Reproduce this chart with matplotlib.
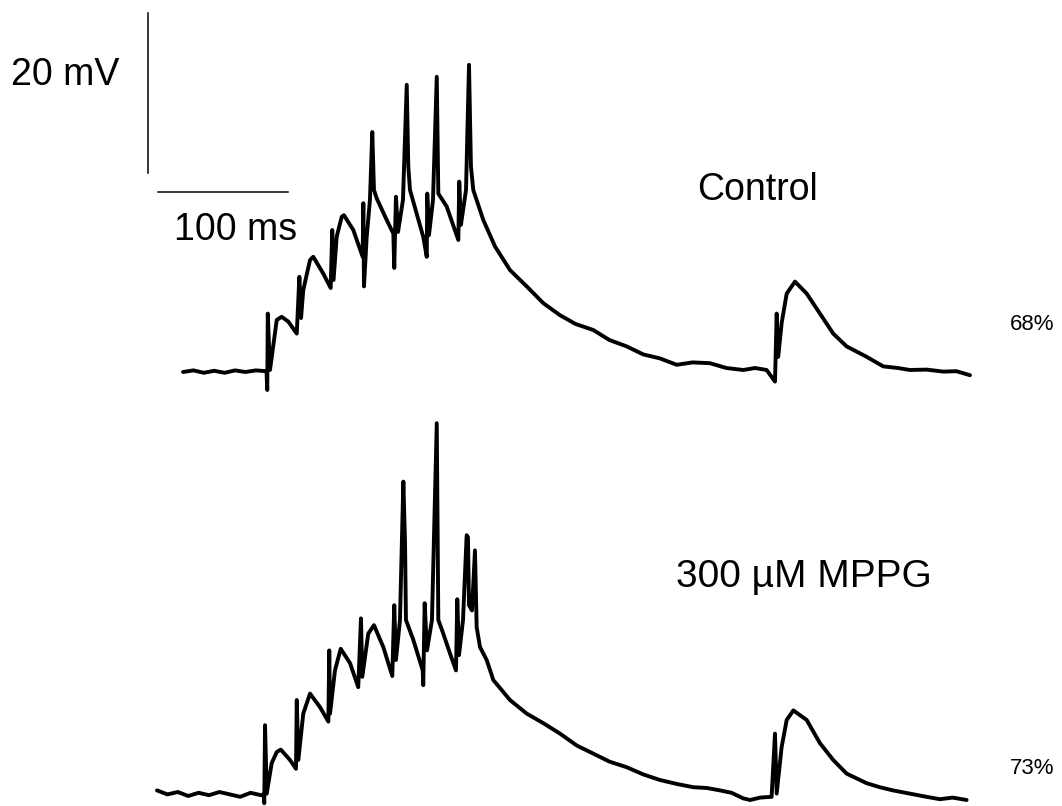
import matplotlib.pyplot as plt

plt.rcParams['font.family'] = ['Liberation Sans', 'DejaVu Sans']

# Control trace: time (ms) and membrane potential (mV, relative to rest)
control_t = [0, 8, 16, 24, 32, 40, 48, 56, 64.2,
             64.8, 65.2, 66.9, 72.1, 75.9, 81.0, 87.5,
             89.5, 90.8, 92.5, 97.7, 100.2, 107.9, 113.6,
             114.8, 115.8, 118.2, 122.1, 123.8, 131.0, 138.2,
             138.7, 139.2, 141.3, 143.8, 145.6, 146.9, 149.0, 156.7, 161.8,
             162.5, 163.8, 165.4, 169.2, 172.1, 173.3, 174.6, 184.8, 187.5,
             187.9, 189.2, 192.3, 195.2, 196.4, 202.8, 211.8,
             212.5, 213.8, 217.7, 220.0, 221.5, 223.3, 231.0, 240.0,
             251.5, 264.4, 277.2, 290.0, 302.0, 315.6, 328.0, 341.3, 354.0,
             366.9, 379.8, 392.0, 405.4, 418.0, 431.0, 440.0, 449.0,
             455.4, 456.7, 457.9, 460.5, 464.4, 470.8, 479.8, 490.0,
             500.2, 510.5, 525.9, 538.7, 550.0, 559.2, 572.0, 584.8, 595.0, 605.4]
control_v = [0, 0.2, -0.1, 0.15, -0.1, 0.2, 0.0, 0.2, 0.1,
             -2.25, 7.3, 0.25, 6.5, 6.9, 6.3, 4.8,
             11.9, 6.75, 10.25, 14.0, 14.4, 12.3, 10.5,
             17.75, 11.5, 16.9, 19.4, 19.6, 17.75, 14.4,
             21.1, 10.7, 16.9, 21.5, 30.0, 22.75, 21.7, 19.0, 17.3,
             13.0, 21.9, 17.5, 21.5, 35.9, 25.7, 22.75, 16.9, 14.4,
             22.3, 17.1, 21.5, 36.9, 22.3, 20.7, 16.5,
             23.8, 18.4, 22.75, 38.4, 25.7, 22.75, 19.0, 15.7,
             12.75, 10.7, 8.6, 7.1, 6.0, 5.25, 4.0, 3.2, 2.2,
             1.7, 0.9, 1.2, 1.1, 0.5, 0.25, 0.5, 0.25,
             -1.2, 7.3, 1.9, 6.1, 9.8, 11.3, 9.8, 7.3,
             4.8, 3.2, 1.9, 0.7, 0.5, 0.25, 0.3, 0.05, 0.1, -0.4]

# 300 uM MPPG trace
mppg_t = [-20, -12, -4, 4, 12, 20, 28, 36, 44, 52, 60, 62.0,
          62.5, 63.1, 64.4, 68.2, 72.1, 75.2, 82.3, 86.9,
          87.5, 88.7, 92.5, 97.7, 105.4, 111.8,
          112.5, 113.1, 116.9, 121.3, 128.5, 134.8,
          136.9, 137.9, 142.5, 146.9, 154.1, 161.0,
          162.5, 163.8, 166.9, 169.5, 170.8, 171.5, 177.2, 184.4,
          184.8, 185.9, 187.7, 191.5, 195.2, 196.4, 200.2, 206.7, 210.0,
          211.0, 212.3, 215.4, 218.2, 219.2, 220.0, 222.3, 224.6, 225.9,
          228.5, 233.6, 238.7, 251.5, 264.4, 277.2, 290.0, 303.0, 315.6,
          328.0, 341.3, 354.0, 366.9, 380.0, 392.5, 403.0, 413.1, 422.0,
          431.0, 436.2, 444.0, 452.8,
          455.4, 456.7, 460.5, 464.4, 469.5, 479.8, 490.0, 500.2, 510.5,
          525.9, 536.0, 546.2, 559.0, 571.9, 582.3, 592.0, 602.8]
mppg_v = [0.6, 0.1, 0.4, -0.1, 0.3, 0.0, 0.4, 0.1, -0.2, 0.3, 0.0, 0.1,
          -1.0, 8.75, 0.2, 4.0, 5.4, 5.7, 4.4, 3.3,
          11.9, 4.4, 10.2, 12.7, 11.0, 9.2,
          18.1, 10.2, 15.6, 18.3, 16.5, 13.5,
          22.1, 14.8, 20.2, 21.25, 18.5, 14.9,
          23.75, 16.9, 21.9, 39.2, 31.5, 21.9, 19.4, 15.6,
          13.75, 24.0, 18.1, 21.9, 46.5, 21.9, 20.2, 17.1, 15.6,
          24.5, 17.5, 21.9, 32.5, 32.25, 23.75, 23.1, 30.6, 21.0,
          18.5, 16.9, 14.4, 11.9, 10.2, 9.0, 7.7, 6.2, 5.2,
          4.2, 3.5, 2.6, 1.9, 1.4, 1.0, 0.9, 0.6, 0.3,
          -0.4, -0.6, -0.3, -0.2,
          7.7, 0.2, 6.0, 9.4, 10.6, 9.4, 6.5, 4.4, 2.7,
          1.5, 1.0, 0.6, 0.2, -0.2, -0.5, -0.3, -0.6]

mppg_offset = -52.9  # vertical offset of the second sweep (mV)
labels = ['Control', '300 \u00b5M MPPG']
percents = ['68%', '73%']

fig = plt.figure(figsize=(10.62, 8.06), dpi=100)
ax = fig.add_axes([0, 0, 1, 1])
ax.set_xlim(-140.8, 676.2)
ax.set_ylim(-54.25, 46.5)
ax.axis('off')

kw = dict(color='black', lw=2.8, solid_joinstyle='round', solid_capstyle='round')
ax.plot(control_t, control_v, **kw)
ax.plot(mppg_t, [v + mppg_offset for v in mppg_v], **kw)

# scale bars
ax.plot([-26.9, -26.9], [24.9, 44.9], color='black', lw=1.1)
ax.plot([-19.2, 80.8], [22.5, 22.5], color='black', lw=1.1)
ax.text(-90.8, 37.1, '20 mV', fontsize=27, ha='center', va='center')
ax.text(40.8, 17.75, '100 ms', fontsize=27, ha='center', va='center')

ax.text(442.3, 22.75, labels[0], fontsize=27, ha='center', va='center')
ax.text(477.7, -25.6, labels[1], fontsize=28, ha='center', va='center')
ax.text(653, 5.9, percents[0], fontsize=16, ha='center', va='center')
ax.text(653, -49.5, percents[1], fontsize=16, ha='center', va='center')

fig.savefig('out.png', dpi=100)
